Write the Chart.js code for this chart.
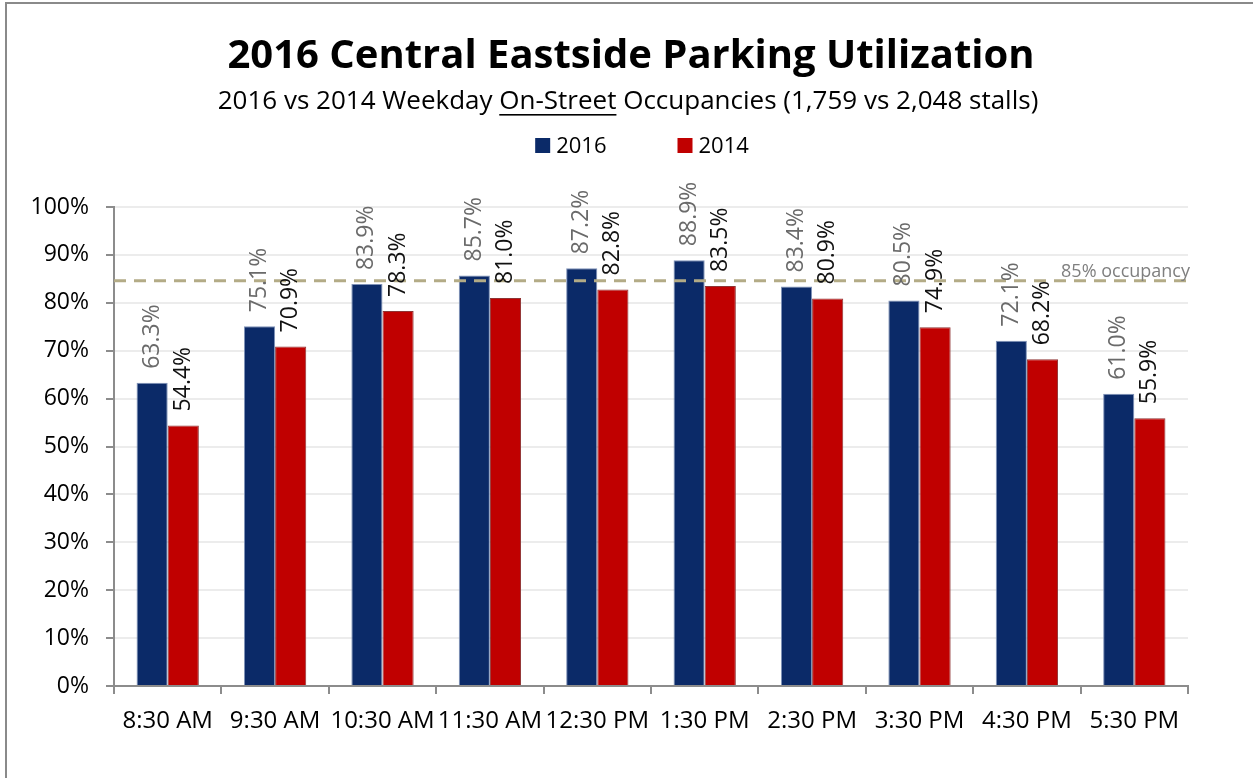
<!DOCTYPE html>
<html>
<head>
<meta charset="utf-8">
<script src="https://cdn.jsdelivr.net/npm/chart.js@4.4.1/dist/chart.umd.min.js"></script>
<style>
  html, body { margin: 0; padding: 0; background: #fff; }
  #wrap { position: relative; width: 1253px; height: 778px; overflow: hidden; background: #fff; }
  #frame { position: absolute; left: 5px; top: 2px; width: 2000px; height: 2000px;
           border-left: 2px solid #8a8a8a; border-top: 2px solid #8a8a8a; }
  #chart { position: absolute; left: 0; top: 0; }
</style>
</head>
<body>
<div id="wrap">
  <div id="frame"></div>
  <canvas id="chart" width="1253" height="778"></canvas>
</div>
<script>
const chartTitle = '2016 Central Eastside Parking Utilization';
const subtitleParts = ['2016 vs 2014 Weekday ', 'On-Street', ' Occupancies (1,759 vs 2,048 stalls)'];

const categories = ['8:30 AM', '9:30 AM', '10:30 AM', '11:30 AM', '12:30 PM',
                    '1:30 PM', '2:30 PM', '3:30 PM', '4:30 PM', '5:30 PM'];
const occ2016 = [63.3, 75.1, 83.9, 85.7, 87.2, 88.9, 83.4, 80.5, 72.1, 61.0];
const occ2014 = [54.4, 70.9, 78.3, 81.0, 82.8, 83.5, 80.9, 74.9, 68.2, 55.9];

const yMax = 100;
const yStep = 10;
const targetValue = 84.6;
const targetLabel = '85% occupancy';

const AXIS_GRAY = '#8c8c8c';
const BODY_FONT = '"Open Sans", sans-serif';

// dashed target line + rotated value labels
const overlayPlugin = {
  id: 'overlay',
  afterDatasetsDraw(chart) {
    const ctx = chart.ctx;
    const area = chart.chartArea;
    const y = chart.scales.y.getPixelForValue(targetValue);

    ctx.save();
    ctx.strokeStyle = '#b3ab86';
    ctx.lineWidth = 3;
    ctx.setLineDash([12, 8]);
    ctx.beginPath();
    ctx.moveTo(area.left, y);
    ctx.lineTo(area.right, y);
    ctx.stroke();
    ctx.setLineDash([]);
    ctx.fillStyle = '#7f7f7f';
    ctx.font = '18px ' + BODY_FONT;
    ctx.textAlign = 'right';
    ctx.textBaseline = 'alphabetic';
    ctx.fillText(targetLabel, area.right + 2, y - 4);
    ctx.restore();

    chart.data.datasets.forEach((ds, i) => {
      const meta = chart.getDatasetMeta(i);
      meta.data.forEach((bar, j) => {
        ctx.save();
        ctx.translate(bar.x, bar.y - 14);
        ctx.rotate(-Math.PI / 2);
        ctx.font = '23px ' + BODY_FONT;
        ctx.fillStyle = ds.labelColor;
        ctx.textAlign = 'left';
        ctx.textBaseline = 'middle';
        ctx.fillText(ds.data[j].toFixed(1) + '%', 0, 0);
        ctx.restore();
      });
    });
  },
  afterDraw(chart) {
    const ctx = chart.ctx;
    ctx.save();
    ctx.fillStyle = '#000';
    ctx.textBaseline = 'alphabetic';

    ctx.font = 'bold 40px ' + BODY_FONT;
    ctx.textAlign = 'center';
    ctx.fillText(chartTitle, 631, 68);

    // subtitle with underlined middle part
    ctx.font = '26px ' + BODY_FONT;
    ctx.textAlign = 'left';
    const widths = subtitleParts.map(p => ctx.measureText(p).width);
    let x = 628 - widths.reduce((a, b) => a + b, 0) / 2;
    subtitleParts.forEach((p, k) => {
      ctx.fillText(p, x, 109);
      if (k === 1) {
        ctx.fillRect(x, 114, widths[k], 1.6);
      }
      x += widths[k];
    });

    // legend
    ctx.font = '22px ' + BODY_FONT;
    const items = chart.data.datasets.map(ds => ({ label: ds.label, color: ds.backgroundColor, w: ctx.measureText(ds.label).width }));
    const box = 15, gap = 6, spacing = 71;
    const total = items.reduce((s, it) => s + box + gap + it.w, 0) + spacing * (items.length - 1);
    let lx = 642 - total / 2;
    items.forEach(it => {
      ctx.fillStyle = it.color;
      ctx.fillRect(lx, 138, box, box);
      ctx.fillStyle = '#000';
      ctx.fillText(it.label, lx + box + gap, 153);
      lx += box + gap + it.w + spacing;
    });
    ctx.restore();
  }
};

new Chart(document.getElementById('chart'), {
  type: 'bar',
  data: {
    labels: categories,
    datasets: [
      {
        label: '2016',
        data: occ2016,
        backgroundColor: '#0b2a68',
        borderColor: '#7f92b8',
        borderWidth: 1,
        labelColor: '#6a6a6a',
        categoryPercentage: 0.58,
        barPercentage: 1.0
      },
      {
        label: '2014',
        data: occ2014,
        backgroundColor: '#c00000',
        borderColor: '#8e3434',
        borderWidth: 1,
        labelColor: '#111111',
        categoryPercentage: 0.58,
        barPercentage: 1.0
      }
    ]
  },
  options: {
    responsive: false,
    animation: false,
    layout: { padding: { top: 207, right: 65, bottom: 0, left: 0 } },
    plugins: {
      legend: { display: false },
      tooltip: { enabled: false },
      title: { display: false }
    },
    scales: {
      x: {
        grid: { offset: true, drawOnChartArea: false, drawTicks: true, tickLength: 8, tickColor: AXIS_GRAY, lineWidth: 2 },
        border: { color: AXIS_GRAY, width: 2 },
        ticks: { color: '#000', font: { family: BODY_FONT, size: 24 }, padding: 13, maxRotation: 0, autoSkip: false },
        afterFit(s) { s.height = 92; }
      },
      y: {
        min: 0,
        max: yMax,
        ticks: { stepSize: yStep, color: '#000', font: { family: BODY_FONT, size: 23 }, padding: 17,
                 callback: v => v + '%' },
        grid: { color: '#ececec', lineWidth: 2, tickColor: AXIS_GRAY, tickLength: 8 },
        border: { color: AXIS_GRAY, width: 2 },
        afterFit(s) { s.width = 114; }
      }
    }
  },
  plugins: [overlayPlugin]
});
</script>
</body>
</html>
